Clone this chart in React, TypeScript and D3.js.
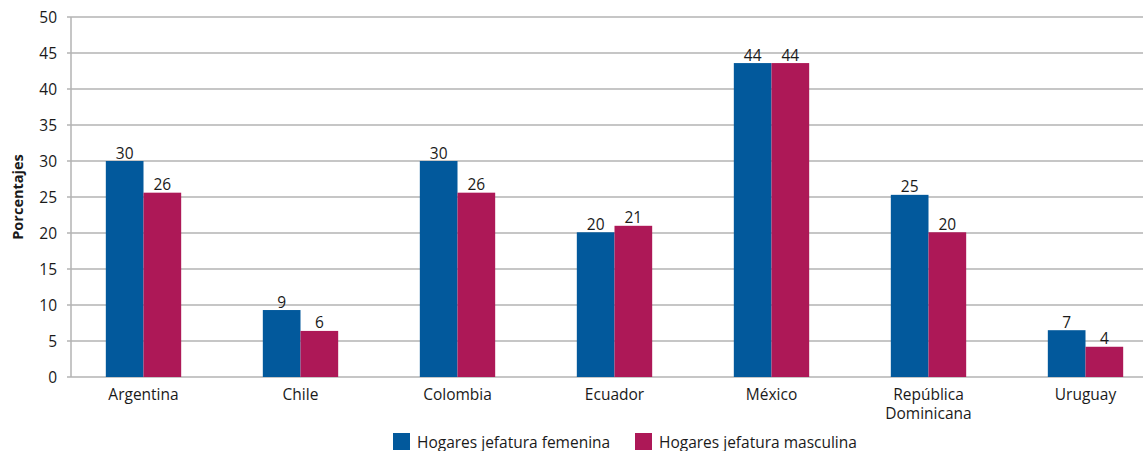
import React from "react";
import * as d3 from "d3";

// Countries on the x axis (line breaks marked with \n)
const categories = [
  "Argentina",
  "Chile",
  "Colombia",
  "Ecuador",
  "México",
  "República\nDominicana",
  "Uruguay",
];

// Percent of households, by sex of the household head
const femenina = [30.0, 9.3, 30.0, 20.1, 43.6, 25.3, 6.5];
const masculina = [25.6, 6.4, 25.6, 21.0, 43.6, 20.1, 4.2];

const seriesNames = ["Hogares jefatura femenina", "Hogares jefatura masculina"];
const seriesColors = ["#02599c", "#ad1857"];

const yTicks = [0, 5, 10, 15, 20, 25, 30, 35, 40, 45, 50];

const W = 1143;
const H = 451;
const FONT = "'Open Sans', 'Noto Sans', sans-serif";
const FS = 15.5;

export default function App() {
  const plotLeft = 71;
  const plotRight = 1143;
  const y = d3.scaleLinear().domain([0, 50]).range([377, 17]);
  const x = d3
    .scaleBand<string>()
    .domain(categories)
    .range([65, 1164]);
  const inner = d3
    .scaleBand<number>()
    .domain([0, 1])
    .range([0, x.bandwidth() * 0.48]);
  const groupOffset = (x.bandwidth() - inner.range()[1]) / 2;
  const fmt = d3.format(".0f");
  const series = [femenina, masculina];

  return (
    <svg
      width={W}
      height={H}
      style={{ position: "absolute", left: 0, top: 0, background: "#fff" }}
      fontFamily={FONT}
    >
      {/* horizontal grid lines and y tick labels */}
      {yTicks.map((t) => (
        <g key={t}>
          <line
            x1={plotLeft - 4}
            x2={plotRight}
            y1={y(t)}
            y2={y(t)}
            stroke="#b3b3b3"
            strokeWidth={1.5}
          />
          <text
            x={57}
            y={y(t)}
            textAnchor="end"
            dominantBaseline="central"
            fontSize={FS}
            fill="#1a1a1a"
          >
            {t}
          </text>
        </g>
      ))}
      <line
        x1={plotLeft}
        x2={plotLeft}
        y1={y(50)}
        y2={y(0)}
        stroke="#b3b3b3"
        strokeWidth={1.5}
      />

      {/* bars */}
      {categories.map((c, i) => (
        <g key={c} transform={`translate(${(x(c) ?? 0) + groupOffset},0)`}>
          {series.map((s, k) => (
            <g key={k}>
              <rect
                x={inner(k)}
                y={y(s[i])}
                width={inner.bandwidth()}
                height={y(0) - y(s[i])}
                fill={seriesColors[k]}
              />
              <text
                x={(inner(k) ?? 0) + inner.bandwidth() / 2}
                y={y(s[i]) - 2.5}
                textAnchor="middle"
                fontSize={FS}
                fill="#1a1a1a"
              >
                {fmt(s[i])}
              </text>
            </g>
          ))}
        </g>
      ))}

      {/* category labels */}
      {categories.map((c) => (
        <text
          key={c}
          x={(x(c) ?? 0) + x.bandwidth() / 2}
          y={400}
          textAnchor="middle"
          fontSize={FS}
          fill="#1a1a1a"
        >
          {c.split("\n").map((line, j) => (
            <tspan key={j} x={(x(c) ?? 0) + x.bandwidth() / 2} dy={j === 0 ? 0 : 18.5}>
              {line}
            </tspan>
          ))}
        </text>
      ))}

      {/* y axis title */}
      <text
        transform={`translate(23,197) rotate(-90)`}
        textAnchor="middle"
        fontSize={14.5}
        fontWeight="bold"
        fill="#1a1a1a"
      >
        Porcentajes
      </text>

      {/* legend */}
      {seriesNames.map((n, k) => {
        const lx = [393, 635][k];
        return (
          <g key={n}>
            <rect x={lx} y={433} width={17} height={17} fill={seriesColors[k]} />
            <text x={lx + 24} y={447.5} fontSize={FS} fill="#1a1a1a">
              {n}
            </text>
          </g>
        );
      })}
    </svg>
  );
}
